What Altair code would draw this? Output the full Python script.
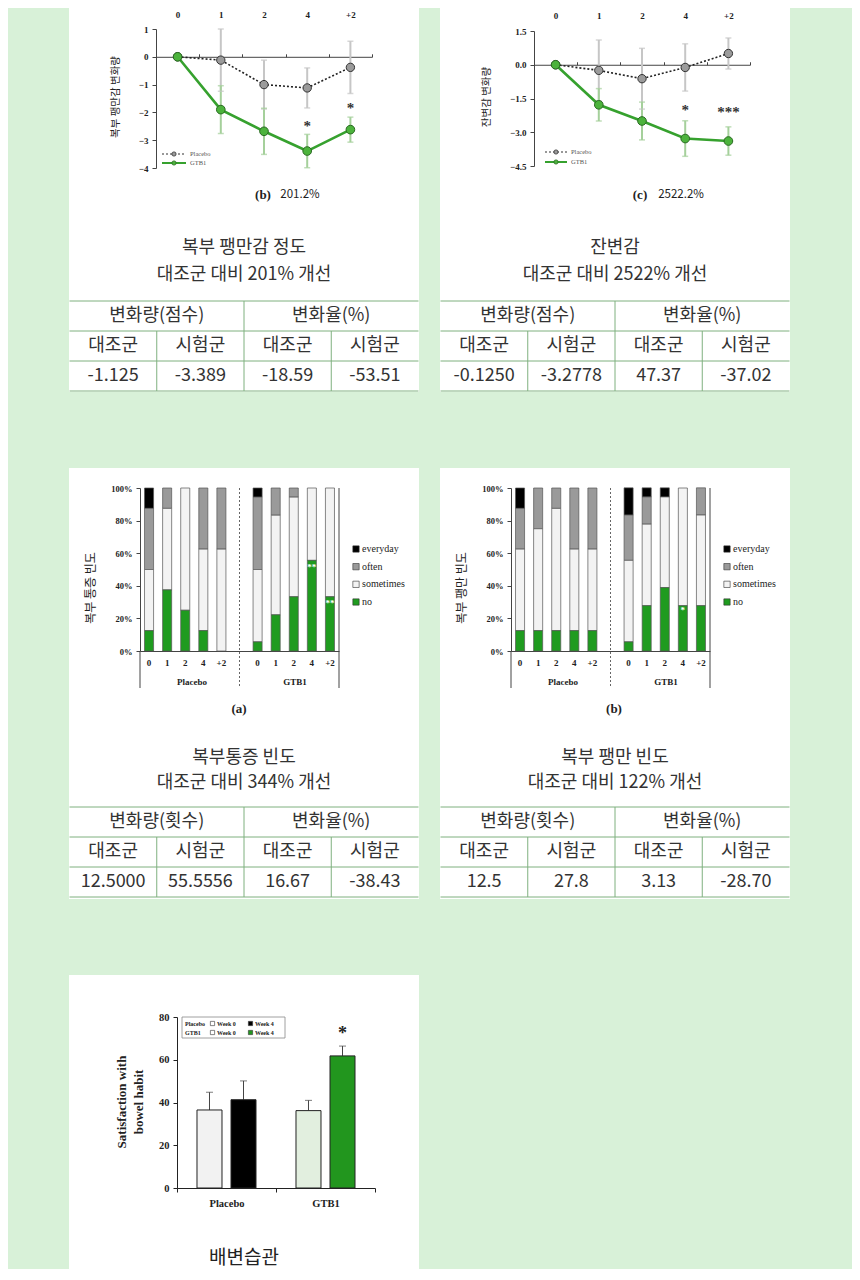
import altair as alt
import pandas as pd

BG = "#d8f1d8"
SERIF = "Liberation Serif"
KR = "Noto Sans CJK KR"
TXT = "#333333"
RULE = "#7fb07f"
AX = "#444444"
W = 350
H1, H2, H3 = 384, 431, 294

# ---------------- data ----------------
weeks = ["0", "1", "2", "4", "+2"]

# (b) abdominal bloating change
bloat_placebo = [0.0, -0.12, -1.00, -1.12, -0.38]
bloat_placebo_sd = [0.0, 1.12, 0.88, 0.72, 0.94]
bloat_gtb1 = [0.0, -1.90, -2.68, -3.39, -2.62]
bloat_gtb1_sd = [0.0, 0.86, 0.83, 0.60, 0.45]
bloat_star_week = ["4", "+2"]
bloat_star_pos = [-2.5, -1.85]
bloat_star_text = ["*", "*"]

# (c) residual stool sensation change
resid_placebo = [0.0, -0.25, -0.62, -0.12, 0.50]
resid_placebo_sd = [0.0, 1.35, 1.35, 1.05, 0.69]
resid_gtb1 = [0.0, -1.78, -2.50, -3.28, -3.39]
resid_gtb1_sd = [0.0, 0.72, 0.84, 0.79, 0.63]
resid_star_week = ["4", "+2"]
resid_star_pos = [-2.0, -2.1]
resid_star_text = ["*", "***"]

# frequency charts
slot_domain = ["P0", "P1", "P2", "P4", "P+2", "gap", "G0", "G1", "G2", "G4", "G+2"]
freq_slots = ["P0", "P1", "P2", "P4", "P+2", "G0", "G1", "G2", "G4", "G+2"]
freq_cats = ["everyday", "often", "sometimes", "no"]
freq_colors = ["#000000", "#9a9a9a", "#f3f3f3", "#1f9b1f"]

pain_everyday = [12.5, 0, 0, 0, 0, 5.6, 0, 0, 0, 0]
pain_often = [37.5, 12.5, 0, 37.5, 37.5, 44.4, 16.7, 5.6, 0, 0]
pain_sometimes = [37.5, 50, 75, 50, 62.5, 44.4, 61.1, 61.1, 44.4, 66.7]
pain_no = [12.5, 37.5, 25, 12.5, 0, 5.6, 22.2, 33.3, 55.6, 33.3]
pain_star_slot = ["G4", "G+2"]
pain_star_pos = [51.5, 29.5]
pain_star_text = ["**", "**"]

bf_everyday = [12.5, 0, 0, 0, 0, 16.7, 5.6, 5.6, 0, 0]
bf_often = [25, 25, 12.5, 37.5, 37.5, 27.8, 16.7, 0, 0, 16.7]
bf_sometimes = [50, 62.5, 75, 50, 50, 50, 50, 55.6, 72.2, 55.6]
bf_no = [12.5, 12.5, 12.5, 12.5, 12.5, 5.6, 27.8, 38.9, 27.8, 27.8]
bf_star_slot = ["G4"]
bf_star_pos = [25.0]
bf_star_text = ["*"]

# bowel habit satisfaction
habit_group = ["Placebo", "Placebo", "GTB1", "GTB1"]
habit_time = ["Week 0", "Week 4", "Week 0", "Week 4"]
habit_mean = [36.5, 41.3, 36.2, 61.8]
habit_err = [8.3, 8.8, 4.8, 4.6]
habit_keys = ["Placebo Week 0", "Placebo Week 4", "GTB1 Week 0", "GTB1 Week 4"]
habit_colors = ["#f2f2f2", "#000000", "#e2efdf", "#22961e"]

sub_heads = ["대조군", "시험군", "대조군", "시험군"]
table1_heads = ["변화량(점수)", "변화율(%)"]
table1_vals = ["-1.125", "-3.389", "-18.59", "-53.51"]
table2_vals = ["-0.1250", "-3.2778", "47.37", "-37.02"]
table3_heads = ["변화량(횟수)", "변화율(%)"]
table3_vals = ["12.5000", "55.5556", "16.67", "-38.43"]
table4_vals = ["12.5", "27.8", "3.13", "-28.70"]


# ---------------- helpers ----------------
def label(s, x, y, size=12, font=KR, weight="normal", color=TXT, align="center", angle=0):
    return alt.Chart(pd.DataFrame({"t": [s]})).mark_text(
        font=font, fontSize=size, fontWeight=weight, color=color,
        align=align, baseline="middle", angle=angle,
    ).encode(x=alt.value(x), y=alt.value(y), text="t:N")


def seg(x1, x2, y1, y2, color, width=1.0, dash=None):
    kw = dict(color=color, strokeWidth=width)
    if dash:
        kw["strokeDash"] = dash
    return alt.Chart(pd.DataFrame({"a": [0]})).mark_rule(**kw).encode(
        x=alt.value(x1), x2=alt.value(x2), y=alt.value(y1), y2=alt.value(y2))


def table(top, heads, vals):
    cells = pd.DataFrame({
        "c": [1, 3, 0.5, 1.5, 2.5, 3.5, 0.5, 1.5, 2.5, 3.5],
        "r": [0.5, 0.5, 1.5, 1.5, 1.5, 1.5, 2.5, 2.5, 2.5, 2.5],
        "t": heads + sub_heads + vals,
    })
    lines = pd.DataFrame({
        "c": [0, 0, 0, 0, 2, 1, 3], "c2": [4, 4, 4, 4, 2, 1, 3],
        "r": [0, 1, 2, 3, 0, 1, 1], "r2": [0, 1, 2, 3, 3, 3, 3],
    })
    xs = alt.Scale(domain=[0, 4], range=[0.5, W - 0.5], nice=False, zero=False)
    ys = alt.Scale(domain=[0, 3], range=[top, top + 90], nice=False, zero=False)
    rules = alt.Chart(lines).mark_rule(color=RULE, strokeWidth=1).encode(
        x=alt.X("c:Q", scale=xs, axis=None), x2="c2:Q",
        y=alt.Y("r:Q", scale=ys, axis=None), y2="r2:Q")
    text = alt.Chart(cells).mark_text(font=KR, fontSize=18, color=TXT, baseline="middle").encode(
        x=alt.X("c:Q", scale=xs, axis=None), y=alt.Y("r:Q", scale=ys, axis=None), text="t:N")
    return [rules, text]


def line_panel(pm, psd, gm, gsd, ydom, yrng, yvals, yfmt, xrng, sw, sy, st, lab_pad):
    rows = []
    for grp, m, s in (("Placebo", pm, psd), ("GTB1", gm, gsd)):
        for w, mv, sv in zip(weeks, m, s):
            rows.append({"week": w, "group": grp, "mean": mv, "lo": mv - sv, "hi": mv + sv})
    df = pd.DataFrame(rows)
    caps = pd.concat([df.assign(v=df["lo"]), df.assign(v=df["hi"])])
    caps = caps[caps["lo"] != caps["hi"]]
    P = df[df.group == "Placebo"]
    G = df[df.group == "GTB1"]
    PC = caps[caps.group == "Placebo"]
    GC = caps[caps.group == "GTB1"]
    xs = alt.Scale(domain=weeks, range=xrng, paddingInner=0, paddingOuter=0)
    ys = alt.Scale(domain=ydom, range=yrng, nice=False, zero=False)
    y0 = yrng[0] + (0 - ydom[0]) / (ydom[1] - ydom[0]) * (yrng[1] - yrng[0])
    xaxis = alt.Axis(orient="top", offset=-y0, title=None, grid=False, labelAngle=0,
                     tickBand="extent", tickSize=3, tickColor=AX, domainColor=AX,
                     labelFont=SERIF, labelFontWeight="bold", labelFontSize=9,
                     labelColor="#222", labelPadding=lab_pad)
    yaxis = alt.Axis(orient="left", offset=-xrng[0], title=None, grid=False, values=yvals,
                     format=yfmt, tickSize=4, tickColor=AX, domainColor=AX,
                     labelFont=SERIF, labelFontWeight="bold", labelFontSize=9,
                     labelColor="#222", labelPadding=4)
    nx = alt.X("week:N", scale=xs, axis=None)
    layers = [
        alt.Chart(P).mark_rule(color="#c6c6c6", strokeWidth=2).encode(
            x=alt.X("week:N", scale=xs, axis=xaxis),
            y=alt.Y("lo:Q", scale=ys, axis=yaxis), y2="hi:Q"),
        alt.Chart(G).mark_rule(color="#a5d09b", strokeWidth=2).encode(
            x=nx, y=alt.Y("lo:Q", scale=ys, axis=None), y2="hi:Q"),
        alt.Chart(PC).mark_tick(color="#c6c6c6", size=6, thickness=1.5).encode(
            x=nx, y=alt.Y("v:Q", scale=ys, axis=None)),
        alt.Chart(GC).mark_tick(color="#a5d09b", size=6, thickness=1.5).encode(
            x=nx, y=alt.Y("v:Q", scale=ys, axis=None)),
        alt.Chart(P).mark_line(color="#222222", strokeWidth=1.6, strokeDash=[2, 2]).encode(
            x=nx, y=alt.Y("mean:Q", scale=ys, axis=None)),
        alt.Chart(G).mark_line(color="#36a12e", strokeWidth=2.6).encode(
            x=nx, y=alt.Y("mean:Q", scale=ys, axis=None)),
        alt.Chart(P).mark_point(shape="circle", filled=True, fill="#9b9b9b", stroke="#333333",
                                strokeWidth=1, size=70, opacity=1).encode(
            x=nx, y=alt.Y("mean:Q", scale=ys, axis=None)),
        alt.Chart(G).mark_point(shape="circle", filled=True, fill="#4cb33c", stroke="#2a6a22",
                                strokeWidth=1, size=75, opacity=1).encode(
            x=nx, y=alt.Y("mean:Q", scale=ys, axis=None)),
        alt.Chart(pd.DataFrame({"week": sw, "v": sy, "t": st})).mark_text(
            font=SERIF, fontSize=15, fontWeight="bold", color="#333", baseline="middle").encode(
            x=nx, y=alt.Y("v:Q", scale=ys, axis=None), text="t:N"),
    ]
    return layers


def line_legend(x1, x2, y1, y2, tx):
    xm = (x1 + x2) / 2
    return [
        seg(x1, x2, y1, y1, "#333", 1.2, [2, 2]),
        alt.Chart(pd.DataFrame({"a": [0]})).mark_point(shape="circle", filled=True, fill="#9b9b9b",
                                                       stroke="#333", strokeWidth=0.8, size=18, opacity=1).encode(
            x=alt.value(xm), y=alt.value(y1)),
        label("Placebo", tx, y1, size=6.5, font=SERIF, color="#555", align="left"),
        seg(x1, x2, y2, y2, "#36a12e", 2),
        alt.Chart(pd.DataFrame({"a": [0]})).mark_point(shape="circle", filled=True, fill="#4cb33c",
                                                       stroke="#2a6a22", strokeWidth=0.8, size=18, opacity=1).encode(
            x=alt.value(xm), y=alt.value(y2)),
        label("GTB1", tx, y2, size=6.5, font=SERIF, color="#555", align="left"),
    ]


def freq_panel(every, often, some, no, ss, sy, st):
    rows = []
    ordmap = {"no": 0, "sometimes": 1, "often": 2, "everyday": 3}
    for cat, arr in zip(freq_cats, [every, often, some, no]):
        for slot, v in zip(freq_slots, arr):
            if v > 0:
                rows.append({"slot": slot, "cat": cat, "pct": v, "ord": ordmap[cat]})
    df = pd.DataFrame(rows)
    xs = alt.Scale(domain=slot_domain, range=[71, 270], paddingInner=0.5, paddingOuter=0.25)
    ys = alt.Scale(domain=[0, 100], range=[183, 20], nice=False, zero=False)
    cs = alt.Scale(domain=freq_cats, range=freq_colors)
    xaxis = alt.Axis(orient="bottom", offset=183 - H2, title=None, grid=False, ticks=False,
                     labelAngle=0, domainColor=AX, labelFont=SERIF, labelFontWeight="bold",
                     labelFontSize=9, labelColor="#222", labelPadding=7,
                     labelExpr="datum.value == 'gap' ? '' : substring(datum.value, 1)")
    yaxis = alt.Axis(orient="left", offset=-71, title=None, grid=False,
                     values=[0, 20, 40, 60, 80, 100], labelExpr="datum.value + '%'",
                     tickSize=4, tickColor=AX, domainColor=AX, labelFont=SERIF,
                     labelFontWeight="bold", labelFontSize=8.5, labelColor="#222", labelPadding=4)
    bars = alt.Chart(df).mark_bar(stroke="#555", strokeWidth=0.7).encode(
        x=alt.X("slot:N", scale=xs, axis=xaxis),
        y=alt.Y("pct:Q", stack="zero", scale=ys, axis=yaxis),
        color=alt.Color("cat:N", scale=cs, legend=None),
        order=alt.Order("ord:Q", sort="ascending"),
    )
    sep = alt.Chart(pd.DataFrame({"slot": ["gap"]})).mark_rule(
        color="#666", strokeWidth=1, strokeDash=[2, 2]).encode(
        x=alt.X("slot:N", scale=xs, axis=None), y=alt.value(20), y2=alt.value(220))
    stars = alt.Chart(pd.DataFrame({"slot": ss, "v": sy, "t": st})).mark_text(
        font=SERIF, fontSize=9, fontWeight="bold", color="white", baseline="middle").encode(
        x=alt.X("slot:N", scale=xs, axis=None), y=alt.Y("v:Q", scale=ys, axis=None), text="t:N")
    leg = pd.DataFrame({"cat": freq_cats})
    lys = alt.Scale(type="point", domain=freq_cats, range=[81, 134], padding=0)
    leg_sq = alt.Chart(leg).mark_point(shape="square", filled=True, size=40, stroke="#333",
                                        strokeWidth=0.6, opacity=1).encode(
        x=alt.value(287), y=alt.Y("cat:N", scale=lys, axis=None),
        fill=alt.Fill("cat:N", scale=cs, legend=None))
    leg_tx = alt.Chart(leg).mark_text(font=SERIF, fontSize=10, color="#222", align="left",
                                      baseline="middle").encode(
        x=alt.value(293), y=alt.Y("cat:N", scale=lys, axis=None), text="cat:N")
    return [
        bars, sep, stars, leg_sq, leg_tx,
        seg(71, 71, 183, 220, AX),
        seg(270, 270, 20, 220, AX),
        label("Placebo", 123, 214, size=9, font=SERIF, weight="bold", color="#222"),
        label("GTB1", 226, 214, size=9, font=SERIF, weight="bold", color="#222"),
    ]


def card(layers, h):
    return alt.layer(*layers).resolve_scale(
        x="independent", y="independent", color="independent", fill="independent"
    ).properties(width=W, height=h)


# ---------------- card 1 ----------------
c1 = line_panel(bloat_placebo, bloat_placebo_sd, bloat_gtb1, bloat_gtb1_sd,
                [-4, 1], [160, 21], [1, 0, -1, -2, -3, -4], "d", [87, 303],
                bloat_star_week, bloat_star_pos, bloat_star_text, 34)
c1 += line_legend(93, 117, 146, 155, 121)
c1 += [
    label("복부 팽만감 변화량", 47, 89, size=10.5, angle=270, color="#222"),
    label("(b)", 194, 187, size=13, font=SERIF, weight="bold", color="#222"),
    label("201.2%", 231, 187, size=11.5, color="#222"),
    label("복부 팽만감 정도", 175, 240, size=18),
    label("대조군 대비 201% 개선", 175, 267, size=18),
]
c1 += table(293, table1_heads, table1_vals)
card1 = card(c1, H1)

# ---------------- card 2 ----------------
c2 = line_panel(resid_placebo, resid_placebo_sd, resid_gtb1, resid_gtb1_sd,
                [-4.5, 1.5], [158, 23], [1.5, 0, -1.5, -3, -4.5], ".1f", [94, 310],
                resid_star_week, resid_star_pos, resid_star_text, 41)
c2 += line_legend(105, 127, 144, 154, 131)
c2 += [
    label("잔변감 변화량", 47, 89, size=10.5, angle=270, color="#222"),
    label("(c)", 200, 187, size=13, font=SERIF, weight="bold", color="#222"),
    label("2522.2%", 241, 187, size=11.5, color="#222"),
    label("잔변감", 175, 240, size=18),
    label("대조군 대비 2522% 개선", 175, 267, size=18),
]
c2 += table(293, table1_heads, table2_vals)
card2 = card(c2, H1)

# ---------------- card 3 ----------------
c3 = freq_panel(pain_everyday, pain_often, pain_sometimes, pain_no,
                pain_star_slot, pain_star_pos, pain_star_text)
c3 += [
    label("복부 통증 빈도", 22, 120, size=12, angle=270, color="#222"),
    label("(a)", 170, 241, size=13, font=SERIF, weight="bold", color="#222"),
    label("복부통증 빈도", 175, 290, size=18),
    label("대조군 대비 344% 개선", 175, 315, size=18),
]
c3 += table(339, table3_heads, table3_vals)
card3 = card(c3, H2)

# ---------------- card 4 ----------------
c4 = freq_panel(bf_everyday, bf_often, bf_sometimes, bf_no,
                bf_star_slot, bf_star_pos, bf_star_text)
c4 += [
    label("복부 팽만 빈도", 22, 120, size=12, angle=270, color="#222"),
    label("(b)", 174, 241, size=13, font=SERIF, weight="bold", color="#222"),
    label("복부 팽만 빈도", 175, 290, size=18),
    label("대조군 대비 122% 개선", 175, 315, size=18),
]
c4 += table(339, table3_heads, table4_vals)
card4 = card(c4, H2)

# ---------------- card 5 ----------------
hdf = pd.DataFrame({"group": habit_group, "time": habit_time, "mean": habit_mean,
                    "err": habit_err, "key": habit_keys})
hdf["top"] = hdf["mean"] + hdf["err"]
hxs = alt.Scale(domain=["Placebo", "GTB1"], range=[108, 306], paddingInner=0, paddingOuter=0)
hxo = alt.Scale(domain=["Week 0", "Week 4"], paddingInner=0.265, paddingOuter=0.588)
hys = alt.Scale(domain=[0, 80], range=[213, 42], nice=False, zero=False)
hx_axis = alt.Axis(orient="bottom", offset=213 - H3, title=None, grid=False, labelAngle=0,
                   tickBand="extent", tickSize=4, tickColor="#222", domainColor="#222",
                   labelFont=SERIF, labelFontWeight="bold", labelFontSize=10.5,
                   labelColor="#222", labelPadding=6)
hy_axis = alt.Axis(orient="left", offset=-108, title=None, grid=False, values=[0, 20, 40, 60, 80],
                   tickSize=4, tickColor="#222", domainColor="#222", labelFont=SERIF,
                   labelFontWeight="bold", labelFontSize=10.5, labelColor="#222", labelPadding=4)
hnx = alt.X("group:N", scale=hxs, axis=None)
hxoff = alt.XOffset("time:N", scale=hxo)
LEG = dict(size=6, font=SERIF, weight="bold", color="#222", align="left")
c5 = [
    alt.Chart(hdf).mark_rule(color="#444", strokeWidth=1).encode(
        x=hnx, xOffset=hxoff, y=alt.Y("mean:Q", scale=hys, axis=None), y2="top:Q"),
    alt.Chart(hdf).mark_tick(color="#444", size=7, thickness=1).encode(
        x=hnx, xOffset=hxoff, y=alt.Y("top:Q", scale=hys, axis=None)),
    alt.Chart(hdf).mark_bar(stroke="#222", strokeWidth=1).encode(
        x=alt.X("group:N", scale=hxs, axis=hx_axis), xOffset=hxoff,
        y=alt.Y("mean:Q", scale=hys, axis=hy_axis),
        color=alt.Color("key:N", scale=alt.Scale(domain=habit_keys, range=habit_colors), legend=None)),
    alt.Chart(hdf[hdf["key"] == "GTB1 Week 4"]).mark_text(
        font=SERIF, fontSize=18, fontWeight="bold", color="#222", baseline="middle", dy=-12).encode(
        x=hnx, xOffset=hxoff, y=alt.Y("top:Q", scale=hys, axis=None), text=alt.value("*")),
    label("Satisfaction with", 53, 127, size=13, font=SERIF, weight="bold", color="#222", angle=270),
    label("bowel habit", 70, 127, size=13, font=SERIF, weight="bold", color="#222", angle=270),
    alt.Chart(pd.DataFrame({"a": [0]})).mark_rect(fill="white", stroke="#888", strokeWidth=0.8).encode(
        x=alt.value(113), x2=alt.value(216), y=alt.value(42), y2=alt.value(63)),
    label("Placebo", 116, 48.5, **LEG),
    label("GTB1", 116, 57.5, **LEG),
    label("Week 0", 148, 48.5, **LEG),
    label("Week 0", 148, 57.5, **LEG),
    label("Week 4", 186, 48.5, **LEG),
    label("Week 4", 186, 57.5, **LEG),
]
for sx, sy_, fillc in ((143.5, 48.5, "white"), (143.5, 57.5, "white"),
                       (181.5, 48.5, "#000000"), (181.5, 57.5, "#22961e")):
    c5.append(alt.Chart(pd.DataFrame({"a": [0]})).mark_point(
        shape="square", filled=True, fill=fillc, stroke="#333", strokeWidth=0.6, size=18, opacity=1).encode(
        x=alt.value(sx), y=alt.value(sy_)))
c5.append(label("배변습관", 175, 283, size=19, color="#222"))
card5 = card(c5, H3)

row1 = alt.hconcat(card1, card2, spacing=21)
row2 = alt.hconcat(card3, card4, spacing=21)
chart = alt.vconcat(row1, row2, card5, spacing=76).properties(
    padding={"left": 61, "top": 0, "right": 62, "bottom": 0},
    background=BG,
).configure_view(fill="white", stroke=None)

chart.save("out.html", embed_options={"renderer": "svg", "actions": False})
